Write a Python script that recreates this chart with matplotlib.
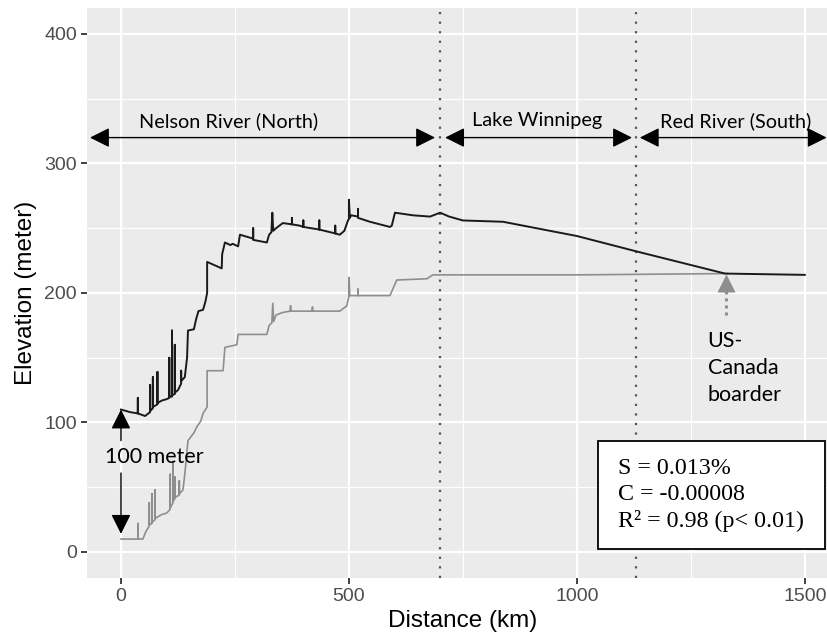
import matplotlib
matplotlib.use("Agg")
import matplotlib.pyplot as plt
from matplotlib.patches import Rectangle

# ---- data ----
black_x = [0, 20, 37, 37, 37, 53, 60, 64, 64, 64, 70, 70, 70, 80, 80, 80, 90, 100,
           106, 106, 106, 112, 112, 112, 118, 118, 118, 125, 132, 132, 132, 140, 145, 147,
           160, 165, 170, 180, 185, 189, 189, 221, 222, 228, 240, 245, 257, 261,
           290, 290, 290, 320, 325, 330, 332, 334, 340, 355, 375, 375, 375, 392,
           400, 400, 400, 435, 435, 435, 470, 470, 470, 480, 490, 498, 500, 500, 502,
           505, 520, 520, 520, 546, 590, 594, 601, 640, 678, 700, 720, 750, 838, 941,
           1000, 1132, 1325, 1500]
black_y = [110, 108, 107, 119, 107, 105, 107, 108, 129, 109, 111, 135, 112, 114, 139, 115, 117, 118,
           119, 150, 120, 120, 171, 121, 122, 160, 123, 125, 130, 140, 132, 135, 150, 171,
           172, 180, 186, 187, 193, 200, 224, 219, 230, 239, 237, 238, 236, 245,
           242, 250, 241, 239, 245, 247, 262, 248, 250, 254, 253, 258, 253, 252,
           251, 256, 251, 249, 256, 249, 246, 252, 246, 245, 248, 256, 257, 272, 258,
           260, 259, 265, 258, 255, 251, 252, 262, 260, 259, 262, 259, 256, 255, 248,
           244, 232, 215, 214]

gray_x = [0, 30, 37, 37, 37, 48, 55, 62, 62, 62, 68, 68, 68, 75, 75, 75, 90, 100,
          108, 108, 108, 114, 114, 114, 118, 118, 118, 128, 128, 128, 136, 140, 147,
          160, 167, 175, 180, 189, 189, 224, 228, 254, 257, 320, 325, 331, 333, 335,
          340, 355, 372, 372, 372, 420, 420, 420, 480, 495, 500, 500, 502,
          520, 520, 520, 590, 605, 671, 684, 1000, 1330]
gray_y = [10, 10, 10, 22, 10, 10, 16, 20, 38, 21, 22, 45, 23, 25, 48, 26, 29, 30,
          33, 60, 34, 38, 70, 39, 41, 58, 42, 44, 55, 45, 48, 60, 86,
          92, 97, 101, 107, 112, 140, 140, 158, 160, 168, 168, 175, 177, 192, 178,
          183, 185, 186, 190, 186, 186, 189, 186, 186, 190, 197, 212, 198,
          198, 203, 198, 198, 210, 211, 214, 214, 215]

section_bounds = [700, 1130]
sections = ["Nelson River (North)", "Lake Winnipeg", "Red River (South)"]
section_arrows = [(-68, 689), (711, 1121), (1138, 1548)]
section_text_x = [235, 912, 1349]
x_ticks = [0, 500, 1000, 1500]
y_ticks = [0, 100, 200, 300, 400]
border_x = 1327
stats = ["S = 0.013%", "C = -0.00008", "R\u00b2 = 0.98 (p< 0.01)"]

# ---- figure ----
fig = plt.figure(figsize=(8.28, 6.37), dpi=100)
ax = fig.add_axes([0.1048, 0.0928, 0.9085, 0.8945])
ax.set_facecolor("#EBEBEB")
ax.set_xlim(-75, 1575)
ax.set_ylim(-20, 420)

ax.set_xticks(x_ticks)
ax.set_yticks(y_ticks)
ax.set_xticks([250, 750, 1250], minor=True)
ax.set_yticks([50, 150, 250, 350], minor=True)
ax.grid(which="major", color="white", lw=1.6)
ax.grid(which="minor", color="white", lw=0.8)
ax.set_axisbelow(True)
for s in ax.spines.values():
    s.set_visible(False)
ax.tick_params(which="major", length=4, width=1.3, color="#333333",
               labelsize=14, labelcolor="#4D4D4D", pad=3)
ax.tick_params(which="minor", length=0)
for lab in ax.get_xticklabels() + ax.get_yticklabels():
    lab.set_family("Liberation Sans")

ax.set_xlabel("Distance (km)", fontsize=17.5, family="Liberation Sans", labelpad=4)
ax.set_ylabel("Elevation (meter)", fontsize=17.5, family="Liberation Sans", labelpad=5)

# profiles
ax.plot(gray_x, gray_y, color="#8E8E8E", lw=1.2, zorder=3)
ax.plot(black_x, black_y, color="#1A1A1A", lw=1.4, zorder=4)

# dotted section boundaries
for b in section_bounds:
    ax.axvline(b, color="#555555", lw=1.6, ls=(0, (1, 3.3)), zorder=2)

# section arrows
ann_font = "Lato"
for name, (a, b), tx in zip(sections, section_arrows, section_text_x):
    ax.annotate("", xy=(b, 320), xytext=(a, 320),
                arrowprops=dict(arrowstyle="<|-|>,head_length=0.6,head_width=0.3",
                                color="black", lw=1.0, mutation_scale=20,
                                shrinkA=0, shrinkB=0), zorder=5)
    ax.text(tx, 333, name, ha="center", va="center", fontsize=14.3, family=ann_font)

# 100 meter arrows
ax.annotate("", xy=(0, 110), xytext=(0, 86),
            arrowprops=dict(arrowstyle="-|>,head_length=0.6,head_width=0.3",
                            color="black", lw=1.0, mutation_scale=20,
                            shrinkA=0, shrinkB=0), zorder=5)
ax.annotate("", xy=(0, 14), xytext=(0, 61),
            arrowprops=dict(arrowstyle="-|>,head_length=0.6,head_width=0.3",
                            color="black", lw=1.0, mutation_scale=20,
                            shrinkA=0, shrinkB=0), zorder=5)
ax.text(-35, 73, "100 meter", ha="left", va="center", fontsize=15.5, family=ann_font)

# US-Canada border marker
ax.plot([border_x, border_x], [183, 212], color="#8E8E8E", lw=2.2,
        ls=(0, (1, 1.3)), zorder=5)
ax.plot([border_x], [208], marker="^", ms=13, color="#8E8E8E", mec="none", zorder=6)
ax.text(1287, 142, "US-\nCanada\nboarder", ha="left", va="center",
        fontsize=15.5, family=ann_font, linespacing=1.42)

# stats box
ax.add_patch(Rectangle((1046, 2.3), 499, 83.5, facecolor="white",
                       edgecolor="black", lw=1.3, zorder=6))
ax.text(1090, 44, "\n".join(stats), ha="left", va="center", fontsize=17.3,
        family="Liberation Serif", linespacing=1.3, zorder=7)

fig.savefig("out.png", dpi=100)
